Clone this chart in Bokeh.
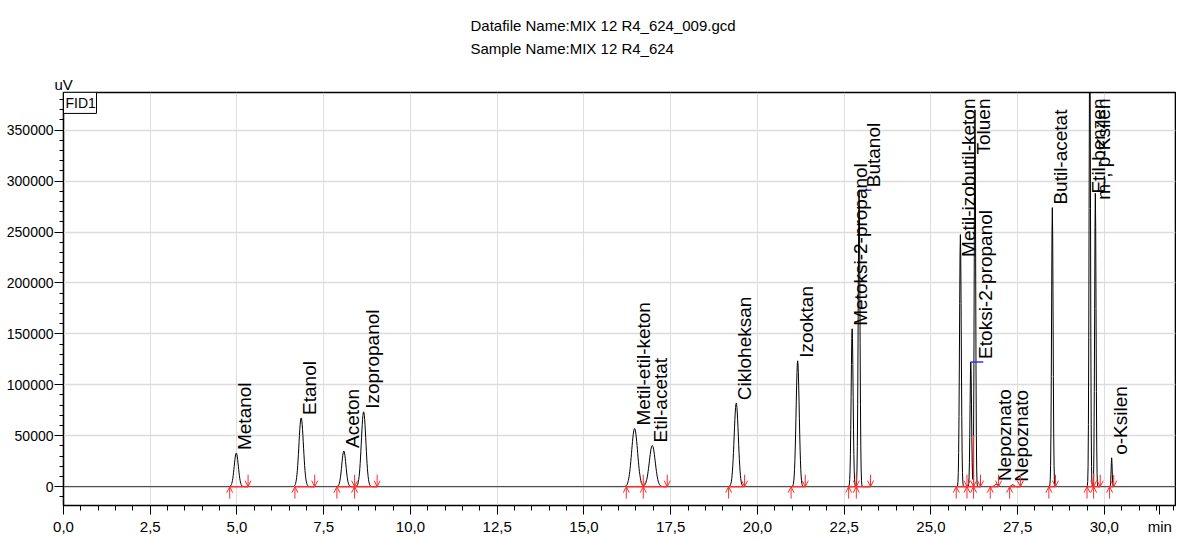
import numpy as np
from bokeh.plotting import figure
from bokeh.models import (ColumnDataSource, FixedTicker, Title, Arrow, OpenHead, Range1d)
from bokeh.core.properties import value
from bokeh.embed import file_html
from bokeh.resources import INLINE

# ---------------- data ----------------
title_lines = ["Datafile Name:MIX 12 R4_624_009.gcd", "Sample Name:MIX 12 R4_624"]
y_axis_unit = "uV"
x_axis_unit = "min"
detector = "FID1"

peak_names = ["Metanol", "Etanol", "Aceton", "Izopropanol", "Metil-etil-keton", "Etil-acetat",
              "Cikloheksan", "Izooktan", "Metoksi-2-propanol", "Butanol", "Metil-izobutil-keton",
              "Etoksi-2-propanol", "Toluen", "Nepoznato", "Nepoznato", "Butil-acetat",
              "Etil-benzen", "m-, p-Ksilen", "o-Ksilen"]
peak_times = [4.98, 6.85, 8.08, 8.65, 16.46, 16.97, 19.39, 21.16, 22.73, 22.93, 25.85,
              26.15, 26.27, 26.88, 27.36, 28.50, 29.58, 29.74, 30.21]
peak_heights = [33000, 67500, 35000, 73500, 57000, 40500, 82000, 123500, 155000, 291000, 247500,
                122500, 370000, 2500, 1800, 274000, 450000, 288000, 28300]
peak_sigmas = [0.06, 0.065, 0.06, 0.065, 0.085, 0.085, 0.06, 0.045, 0.028, 0.025, 0.025,
               0.022, 0.02, 0.04, 0.04, 0.022, 0.02, 0.02, 0.015]
int_starts = [4.79, 6.67, 7.88, 8.39, 16.22, 16.71, 19.17, 20.97, 22.63, 22.85, 25.73,
              26.04, 26.23, 26.71, 27.27, 28.40, 29.50, 29.69, 30.15]
int_ends = [5.32, 7.24, 8.39, 9.04, 16.71, 17.40, 19.63, 21.38, 22.85, 23.26, 26.04,
            26.23, 26.43, 26.95, 27.58, 28.59, 29.69, 29.88, 30.27]
flagged_peaks = ["Butanol", "Etoksi-2-propanol"]

x_tick_values = [0.0, 2.5, 5.0, 7.5, 10.0, 12.5, 15.0, 17.5, 20.0, 22.5, 25.0, 27.5, 30.0]
x_tick_labels = ["0,0", "2,5", "5,0", "7,5", "10,0", "12,5", "15,0", "17,5", "20,0",
                 "22,5", "25,0", "27,5", "30,0"]
y_tick_values = [0, 50000, 100000, 150000, 200000, 250000, 300000, 350000]
y_tick_labels = ["0", "50000", "100000", "150000", "200000", "250000", "300000", "350000"]

# ---------------- layout constants ----------------
X_START, X_END = 0.0, 32.05
Y_START, Y_END = -18500, 387000
FRAME_H = 416
UNITS_PER_PX = (Y_END - Y_START) / FRAME_H
PX_PER_MIN = 34.7
RED = "#ff2a2a"
FONT = "Liberation Sans"
UNIT_POS = 31.6   # where the x unit text sits on the axis

p = figure(width=1176, height=537, output_backend="svg", toolbar_location=None,
           x_range=Range1d(X_START, X_END), y_range=Range1d(Y_START, Y_END),
           min_border_left=63, min_border_right=1, min_border_top=92, min_border_bottom=29,
           background_fill_color="white", border_fill_color="white")
p.outline_line_color = "black"
p.outline_line_width = 1.6

# titles (stacked above the frame: first added is nearest the frame)
for txt, off, so, va in [(y_axis_unit, -9, 0, "bottom"),
                         (title_lines[1], 407, 30, "top"),
                         (title_lines[0], 407, -18, "bottom")]:
    p.add_layout(Title(text=txt, align="left", offset=off, standoff=so, vertical_align=va,
                       text_font=FONT, text_font_size="15px", text_font_style="normal",
                       text_color="black"), "above")

# axes
p.xaxis.ticker = FixedTicker(ticks=x_tick_values + [UNIT_POS],
                             minor_ticks=list(np.arange(0, 32.01, 0.5)))
ov = {v: l for v, l in zip(x_tick_values, x_tick_labels)}
ov[UNIT_POS] = x_axis_unit
p.xaxis.major_label_overrides = ov
p.yaxis.ticker = FixedTicker(ticks=y_tick_values,
                             minor_ticks=list(range(-10000, 390000, 10000)))
p.yaxis.major_label_overrides = {v: l for v, l in zip(y_tick_values, y_tick_labels)}
for ax in (p.xaxis, p.yaxis):
    ax.axis_line_color = "black"
    ax.major_tick_line_color = "black"
    ax.minor_tick_line_color = "black"
    ax.major_tick_in = 0
    ax.minor_tick_in = 0
    ax.major_label_text_font = FONT
    ax.major_label_text_color = "black"
p.xaxis.major_tick_out = 9
p.xaxis.minor_tick_out = 5
p.xaxis.major_label_standoff = 3
p.xaxis.major_label_text_font_size = "15px"
p.yaxis.major_tick_out = 9
p.yaxis.minor_tick_out = 4
p.yaxis.major_label_standoff = 1
p.yaxis.major_label_text_font_size = "14px"

p.xgrid.ticker = FixedTicker(ticks=x_tick_values)
p.ygrid.ticker = FixedTicker(ticks=y_tick_values)
p.xgrid.grid_line_color = "#bdbdbd"
p.xgrid.grid_line_dash = "1 1"
p.ygrid.grid_line_color = "#dcdcdc"
p.ygrid.grid_line_width = 1.5

# chromatogram trace built from the peak table
t = np.union1d(np.arange(0.0, 32.3, 0.01), np.array(peak_times))
sig = np.zeros_like(t)
for tc, h, s in zip(peak_times, peak_heights, peak_sigmas):
    sig += h * np.exp(-0.5 * ((t - tc) / s) ** 2)
p.line(t, sig, line_color="black", line_width=1)

# integration baselines
p.segment(x0=int_starts, y0=[0] * len(int_starts), x1=int_ends, y1=[0] * len(int_ends),
          line_color=RED, line_width=1.5)

# perpendicular drops at shared boundaries
drops = [e for e, s in zip(int_ends[:-1], int_starts[1:]) if abs(e - s) < 1e-6]
drop_h = [float(np.interp(d, t, sig)) for d in drops]
p.segment(x0=drops, y0=[0] * len(drops), x1=drops, y1=drop_h, line_color=RED, line_width=1.2)

# start / end arrows
arrow_len = 12 * UNITS_PER_PX
up_src = ColumnDataSource(dict(x=int_starts, y0=[-arrow_len] * len(int_starts),
                               y1=[0] * len(int_starts)))
dn_src = ColumnDataSource(dict(x=int_ends, y0=[arrow_len] * len(int_ends),
                               y1=[0] * len(int_ends)))
for src in (up_src, dn_src):
    p.add_layout(Arrow(end=OpenHead(size=6, line_color=RED, line_width=1),
                       x_start="x", y_start="y0", x_end="x", y_end="y1",
                       source=src, line_color=RED, line_width=1))

# blue peak-top flags
fl_t = [tt for n, tt in zip(peak_names, peak_times) if n in flagged_peaks]
fl_h = [h for n, h in zip(peak_names, peak_heights) if n in flagged_peaks]
p.segment(x0=fl_t, y0=fl_h, x1=[x + 0.36 for x in fl_t], y1=fl_h,
          line_color="#3030ff", line_width=1.5)

# peak labels
top_px_space = lambda h: (Y_END - h) / UNITS_PER_PX
low = dict(x=[], y=[], text=[], dx=[])
high = dict(x=[], y=[], text=[], dx=[])
for n, tt, h in zip(peak_names, peak_times, peak_heights):
    dx = 4 if n in flagged_peaks else -2
    if top_px_space(h) - len(n) * 8.0 < 6:
        high["x"].append(tt); high["y"].append(Y_END); high["text"].append(n); high["dx"].append(dx)
    else:
        low["x"].append(tt); low["y"].append(h); low["text"].append(n); low["dx"].append(dx)

p.text(x="x", y="y", text="text", source=ColumnDataSource(low), angle=np.pi / 2,
       text_align="left", text_baseline="top", x_offset="dx", y_offset=-3,
       text_font=value(FONT), text_font_size="19px", text_color="black")
p.text(x="x", y="y", text="text", source=ColumnDataSource(high), angle=np.pi / 2,
       text_align="right", text_baseline="top", x_offset="dx", y_offset=6,
       text_font=value(FONT), text_font_size="19px", text_color="black")

# detector box in the top-left corner of the frame
box_w, box_h = 33, 21
p.rect(x=[X_START + box_w / 2 / PX_PER_MIN], y=[Y_END - box_h / 2 * UNITS_PER_PX],
       width=box_w, height=box_h, width_units="screen", height_units="screen",
       fill_color="white", line_color="black", line_width=1)
p.text(x=[X_START], y=[Y_END], text=[detector], x_offset=2, y_offset=2,
       text_align="left", text_baseline="top", text_font=value(FONT),
       text_font_size="14px", text_color="black")

open("out.html", "w").write(file_html(p, INLINE))
